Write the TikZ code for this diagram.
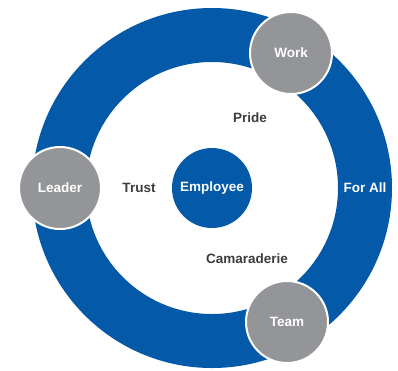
\documentclass[tikz,border=0pt]{standalone}
\usepackage{fontspec}
\setmainfont{Liberation Sans}
\definecolor{ringblue}{HTML}{0459A9}
\definecolor{bubblegray}{HTML}{939598}
\definecolor{labeldark}{HTML}{3C3C3C}
\begin{document}
\begin{tikzpicture}[x=1pt,y=-1pt,
  bubble/.style={circle,fill=bubblegray,draw=white,line width=2pt,minimum size=82pt,inner sep=0pt,text=white,font=\fontsize{13.5}{15}\selectfont\bfseries},
  core/.style={circle,fill=ringblue,minimum size=80pt,inner sep=0pt,text=white,font=\fontsize{13.5}{15}\selectfont\bfseries},
  lbl/.style={text=labeldark,font=\fontsize{13.5}{15}\selectfont\bfseries,inner sep=0pt},
  ringlbl/.style={text=white,font=\fontsize{13.5}{15}\selectfont\bfseries,inner sep=0pt}]
\useasboundingbox (0,0) rectangle (398,370);
\coordinate (c) at (212,188);
\fill[ringblue,even odd rule] (c) circle[radius=180] (c) circle[radius=126];
\node[core] (emp) at (c) {Employee};
\node[bubble] (work) at (291,53) {Work};
\node[bubble] (team) at (287,322) {Team};
\node[bubble] (leader) at (60,188) {Leader};
\node[lbl] (pride) at (250,118) {Pride};
\node[lbl] (trust) at (139,188) {Trust};
\node[lbl] (cam) at (247,259) {Camaraderie};
\node[ringlbl] (forall) at (365,188) {For All};
\end{tikzpicture}
\end{document}
